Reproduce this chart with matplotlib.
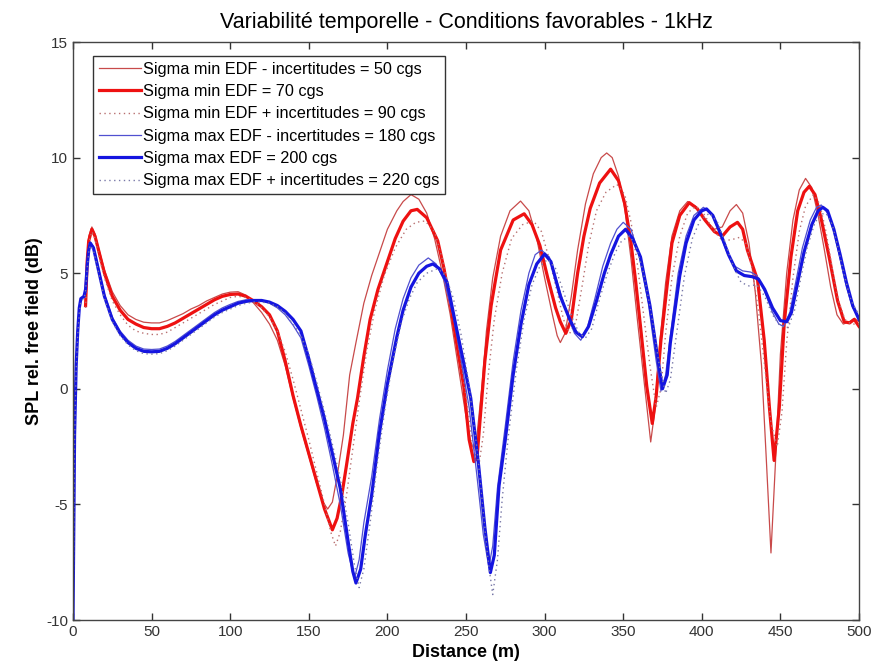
import matplotlib
matplotlib.use('Agg')
import matplotlib.pyplot as plt

plt.rcParams['font.family'] = ['Liberation Sans', 'DejaVu Sans']
plt.rcParams['axes.unicode_minus'] = False

TITLE = 'Variabilité temporelle - Conditions favorables - 1kHz'

# Sigma min EDF - incertitudes = 50 cgs
x_r50 = [8, 9, 10, 12, 14, 17, 20, 25, 30, 35, 40, 45, 50, 55, 60, 65, 70, 75, 80, 85, 90, 95,
         100, 105, 110, 115, 120, 125, 130, 135, 140, 145, 150, 155, 159, 162, 165, 168, 172, 176,
         180, 185, 190, 195, 200, 206, 210, 215, 220, 225, 230, 235, 240, 245, 250, 253, 255, 257,
         260, 263, 267, 272, 278, 284.7, 290, 295, 300, 305, 308, 310, 313, 317, 321, 326, 331, 336,
         339.5, 343, 347, 351, 355, 359, 363, 367.5, 370, 373, 377, 381, 386, 391, 396, 402, 408,
         413, 418, 422, 426, 430, 434, 438, 441, 444, 447, 450, 454, 458, 462, 466, 470, 474, 478,
         482, 486, 490, 494, 497, 500]
y_r50 = [3.7, 5.6, 6.6, 7.0, 6.7, 5.9, 5.15, 4.2, 3.6, 3.2, 3.0, 2.88, 2.85, 2.85, 2.95, 3.1, 3.25,
         3.45, 3.6, 3.8, 3.95, 4.1, 4.18, 4.2, 4.05, 3.7, 3.3, 2.8, 2.1, 1.0, -0.4, -1.7, -2.9, -4.1,
         -4.9, -5.2, -4.9, -3.8, -2.0, 0.6, 2.0, 3.7, 4.9, 5.9, 6.9, 7.7, 8.1, 8.4, 8.2, 7.6, 6.5, 5.0,
         3.2, 1.0, -1.2, -2.3, -2.6, -2.0, 0.0, 2.5, 4.8, 6.6, 7.7, 8.12, 7.7, 6.5, 4.8, 3.2, 2.3, 2.0,
         2.4, 4.0, 6.0, 8.0, 9.3, 10.0, 10.2, 10.0, 9.2, 7.8, 5.6, 3.0, 0.5, -2.3, -1.0, 1.8, 4.6, 6.6,
         7.7, 8.1, 7.9, 7.3, 6.9, 7.0, 7.7, 7.97, 7.6, 6.3, 4.2, 1.0, -3.0, -7.1, -3.0, 1.5, 5.0, 7.3,
         8.6, 9.1, 8.7, 7.5, 6.0, 4.4, 3.2, 2.8, 2.9, 3.05, 2.9]

# Sigma min EDF = 70 cgs
x_r70 = [8, 9, 10, 12, 14, 17, 20, 25, 30, 35, 40, 45, 50, 55, 60, 65, 70, 75, 80, 85, 90, 95,
         100, 105, 110, 115, 120, 125, 130, 135, 140, 145, 150, 155, 160, 165, 168, 171, 174, 178,
         181, 185, 189, 194, 200, 205, 210, 215, 219, 225, 232, 236, 240, 244, 248.6, 252, 255, 257,
         259, 262, 266, 272, 280, 287, 292, 297, 302, 307, 310, 313.5, 317, 321, 325, 329, 335, 342,
         347, 351, 355, 358, 361, 365, 368.5, 371, 374, 378, 381, 386, 392, 397, 402, 408, 413, 418,
         422.7, 426, 429, 435.5, 439.7, 443, 446, 449.3, 452.4, 456.7, 461, 465, 468.4, 472, 475.8,
         481, 486.4, 490.6, 494, 497, 500]
y_r70 = [3.6, 5.5, 6.4, 6.9, 6.6, 5.8, 5.0, 4.0, 3.4, 3.0, 2.8, 2.65, 2.6, 2.6, 2.7, 2.85, 3.05,
         3.25, 3.45, 3.65, 3.85, 4.0, 4.08, 4.1, 4.0, 3.8, 3.55, 3.2, 2.5, 1.2, -0.3, -1.6, -2.8, -4.0,
         -5.2, -6.1, -5.6, -4.6, -3.3, -1.5, -0.4, 1.4, 3.0, 4.3, 5.5, 6.5, 7.25, 7.7, 7.76, 7.4, 6.4,
         5.2, 3.7, 2.0, 0.1, -2.2, -3.15, -3.0, -1.3, 1.2, 3.6, 6.0, 7.3, 7.57, 7.1, 6.2, 4.8, 3.5, 2.9,
         2.4, 3.0, 5.0, 6.6, 7.8, 8.9, 9.5, 9.0, 8.0, 6.3, 4.6, 2.7, 0.1, -1.5, -0.3, 2.1, 4.5, 6.3,
         7.5, 8.05, 7.8, 7.3, 6.8, 6.6, 7.0, 7.2, 6.9, 6.0, 4.7, 2.1, -0.8, -3.1, -0.8, 2.8, 5.7, 7.7,
         8.5, 8.76, 8.4, 7.4, 5.7, 3.8, 2.9, 2.85, 3.0, 2.7]

# Sigma min EDF + incertitudes = 90 cgs
x_r90 = [8, 9, 10, 12, 14, 17, 20, 25, 30, 35, 40, 45, 50, 55, 60, 65, 70, 75, 80, 85, 90, 95,
         100, 105, 110, 115, 120, 125, 130, 135, 140, 145, 150, 155, 160, 164, 167, 170, 174, 178,
         182, 187, 192, 198, 205, 212, 218, 224, 230, 235, 240, 245, 250, 254, 258, 261, 264, 268,
         273, 279, 286, 293, 298, 303, 308, 312, 316, 320, 324, 328, 333, 339, 346, 351, 355, 359,
         363, 367, 371, 374, 377, 381, 386, 391, 396, 401, 407, 413, 419, 424, 428, 432, 436, 440,
         444, 448, 451, 454, 458, 462, 466, 471, 475, 479, 483, 487, 491, 495, 500]
y_r90 = [3.5, 5.3, 6.3, 6.8, 6.5, 5.6, 4.8, 3.8, 3.2, 2.75, 2.5, 2.4, 2.35, 2.35, 2.45, 2.65, 2.85,
         3.05, 3.25, 3.45, 3.65, 3.8, 3.95, 4.0, 3.95, 3.8, 3.5, 3.1, 2.5, 1.6, 0.4, -0.9, -2.2, -3.6,
         -5.0, -6.2, -6.8, -6.2, -4.6, -2.6, -0.6, 1.7, 3.4, 4.9, 6.1, 6.9, 7.2, 7.26, 6.8, 5.6, 4.0,
         2.0, -0.3, -2.3, -3.4, -2.0, 0.5, 3.0, 5.0, 6.5, 7.1, 7.26, 6.8, 5.6, 4.2, 3.0, 2.4, 2.9, 4.5,
         6.2, 7.7, 8.5, 8.84, 8.4, 7.2, 5.4, 3.2, 1.0, -0.8, 0.0, 2.4, 4.8, 6.6, 7.6, 7.9, 7.6, 6.9,
         6.4, 6.45, 6.55, 6.3, 5.2, 3.4, 1.0, -1.5, -2.5, -1.0, 2.0, 4.8, 6.8, 7.9, 8.4, 8.0, 6.8, 5.2,
         3.8, 3.0, 2.8, 2.8]

# Sigma max EDF - incertitudes = 180 cgs
x_b180 = [0, 0.5, 1, 2, 3, 4, 5, 7, 8, 9, 10, 11, 13, 15, 18, 20, 25, 30, 35, 40, 45, 50, 55, 60,
          65, 70, 75, 80, 85, 90, 95, 100, 105, 110, 115, 120, 125, 130, 135, 140, 145, 150, 155,
          160, 165, 170, 175, 179, 182, 185, 190, 195, 200, 205, 210, 215, 220, 226, 231, 236, 242,
          247, 252, 257, 261, 264.5, 267, 270, 275, 280, 285, 290, 294, 298, 303, 309, 315, 319, 323,
          327, 332, 337, 342, 346, 350, 355, 360, 366, 371, 374, 377, 380, 385, 390, 395, 401, 406,
          411, 416, 421, 426, 431, 435, 440, 445, 449, 452, 456, 460, 464, 469, 473, 476, 480, 484,
          488, 492, 496, 500]
y_b180 = [-10, -6, -2, 1.0, 2.5, 3.5, 3.9, 4.0, 4.3, 5.3, 6.0, 6.35, 6.15, 5.6, 4.7, 4.1, 3.1, 2.5,
          2.1, 1.85, 1.72, 1.7, 1.72, 1.85, 2.05, 2.3, 2.55, 2.8, 3.05, 3.3, 3.5, 3.65, 3.78, 3.85,
          3.85, 3.8, 3.7, 3.5, 3.2, 2.75, 2.2, 1.0, -0.3, -1.7, -3.3, -5.0, -7.1, -8.2, -7.4, -5.8,
          -3.8, -1.3, 0.8, 2.6, 3.9, 4.8, 5.35, 5.66, 5.4, 4.7, 3.1, 1.2, -0.8, -3.8, -6.3, -7.7, -6.8,
          -4.3, -1.6, 1.2, 3.4, 5.0, 5.8, 6.0, 5.7, 4.4, 3.1, 2.4, 2.1, 2.6, 3.9, 5.3, 6.3, 6.9, 7.2,
          6.9, 5.8, 3.7, 1.2, -0.1, 0.6, 2.3, 5.0, 6.6, 7.5, 7.85, 7.6, 6.8, 5.9, 5.3, 5.1, 5.05, 4.9,
          4.2, 3.3, 2.8, 2.7, 3.3, 4.7, 6.1, 7.3, 7.85, 7.95, 7.6, 6.8, 5.6, 4.4, 3.5, 3.1]

# Sigma max EDF = 200 cgs
x_b200 = [0, 0.5, 1, 2, 3, 4, 5, 7, 8, 9, 10, 11, 13, 15, 18, 20, 25, 30, 35, 40, 45, 50, 55, 60,
          65, 70, 75, 80, 85, 90, 95, 100, 105, 110, 115, 120, 125, 130, 135, 140, 145, 150, 155,
          160, 165, 170, 175, 178, 180, 183, 186, 190, 195, 200, 206, 210, 215, 220, 225, 229, 233,
          238, 244, 248, 253, 258, 262, 265.5, 268, 271, 275, 280, 285, 290, 295, 300, 304, 310, 316,
          320, 324, 328, 333, 338, 342, 347, 351.5, 356, 361, 367, 372, 375, 378, 380, 386, 390, 395,
          400, 403, 407, 412, 417, 422, 427, 432, 436, 440, 445, 450, 454, 457, 461, 465, 470, 474,
          477, 480, 484, 488, 492, 496, 500]
y_b200 = [-10, -6, -2, 1.0, 2.5, 3.5, 3.9, 4.0, 4.3, 5.3, 6.0, 6.3, 6.1, 5.5, 4.6, 4.0, 3.0, 2.4,
          2.0, 1.75, 1.62, 1.6, 1.62, 1.75, 1.95, 2.2, 2.45, 2.7, 2.95, 3.2, 3.4, 3.55, 3.7, 3.78,
          3.82, 3.82, 3.75, 3.6, 3.35, 3.0, 2.5, 1.3, 0.0, -1.3, -2.8, -4.3, -6.6, -7.9, -8.4, -7.8,
          -6.3, -4.6, -1.9, 0.2, 2.25, 3.4, 4.4, 5.0, 5.3, 5.4, 5.2, 4.6, 2.6, 1.3, -0.4, -3.3, -6.0,
          -7.95, -7.2, -4.2, -2.2, 0.6, 2.8, 4.5, 5.4, 5.83, 5.5, 4.0, 3.0, 2.45, 2.25, 2.7, 3.8, 5.0,
          5.8, 6.6, 6.9, 6.5, 5.7, 3.6, 1.3, 0.0, 0.6, 2.0, 4.9, 6.3, 7.3, 7.7, 7.78, 7.5, 6.7, 5.8,
          5.1, 4.9, 4.85, 4.75, 4.3, 3.5, 2.95, 2.9, 3.3, 4.6, 5.9, 7.1, 7.7, 7.85, 7.7, 6.9, 5.8, 4.6,
          3.6, 3.0]

# Sigma max EDF + incertitudes = 220 cgs
x_b220 = [0, 0.5, 1, 2, 3, 4, 5, 7, 8, 9, 10, 11, 13, 15, 18, 20, 25, 30, 35, 40, 45, 50, 55, 60,
          65, 70, 75, 80, 85, 90, 95, 100, 105, 110, 115, 120, 125, 130, 135, 140, 145, 150, 155,
          160, 165, 170, 175, 179, 182, 185, 189, 194, 199, 204, 209, 214, 219, 225, 232, 237, 242,
          247, 252, 257, 261, 264, 267, 270, 273, 277, 282, 287, 292, 297, 302, 307, 313, 318, 322,
          326, 330, 335, 340, 345, 349, 354, 358, 363, 368, 373, 377, 380, 384, 389, 394, 399, 405,
          410, 415, 420, 425, 430, 435, 440, 445, 450, 455, 459, 463, 467, 472, 476, 479, 483, 487,
          491, 495, 500]
y_b220 = [-10, -6, -2.2, 0.8, 2.3, 3.3, 3.8, 3.9, 4.2, 5.2, 5.9, 6.2, 6.0, 5.4, 4.5, 3.9, 2.9, 2.3,
          1.9, 1.65, 1.52, 1.5, 1.52, 1.65, 1.85, 2.1, 2.35, 2.6, 2.85, 3.1, 3.3, 3.45, 3.6, 3.7,
          3.75, 3.75, 3.7, 3.55, 3.25, 2.8, 2.3, 1.5, 0.3, -1.0, -2.4, -3.9, -5.8, -7.6, -8.6, -7.8,
          -5.8, -3.0, -0.6, 1.4, 2.9, 3.9, 4.6, 5.0, 5.2, 4.9, 3.9, 2.3, 0.1, -2.6, -5.3, -7.4, -8.9,
          -7.4, -4.8, -2.0, 0.8, 3.0, 4.5, 5.3, 5.6, 5.2, 4.0, 3.0, 2.4, 2.2, 2.6, 3.9, 5.0, 5.9, 6.4,
          6.6, 6.2, 5.0, 3.2, 1.0, -0.2, 0.4, 2.4, 4.9, 6.5, 7.3, 7.6, 7.2, 6.3, 5.3, 4.6, 4.45, 4.5,
          4.0, 3.2, 2.7, 2.65, 3.4, 4.8, 6.1, 7.2, 7.55, 7.6, 7.1, 6.0, 4.8, 3.8, 3.2]

labels = ['Sigma min EDF - incertitudes = 50 cgs',
          'Sigma min EDF = 70 cgs',
          'Sigma min EDF + incertitudes = 90 cgs',
          'Sigma max EDF - incertitudes = 180 cgs',
          'Sigma max EDF = 200 cgs',
          'Sigma max EDF + incertitudes = 220 cgs']

fig = plt.figure(figsize=(8.81, 6.66), dpi=100)
ax = fig.add_axes((73 / 881, 1 - 620 / 666, 786 / 881, 578 / 666))

ax.plot(x_r50, y_r50, color='#c84a4a', lw=0.9, label=labels[0])
ax.plot(x_r70, y_r70, color='#ee1111', lw=2.3, label=labels[1])
ax.plot(x_r90, y_r90, color='#b87070', lw=1.0, ls=(0, (1, 2.5)), label=labels[2])
ax.plot(x_b180, y_b180, color='#5050d0', lw=0.9, label=labels[3])
ax.plot(x_b200, y_b200, color='#1515e0', lw=2.3, label=labels[4])
ax.plot(x_b220, y_b220, color='#7878a8', lw=1.0, ls=(0, (1, 2.5)), label=labels[5])

ax.set_xlim(0, 500)
ax.set_ylim(-10, 15)
ax.set_xticks(range(0, 501, 50))
ax.set_yticks(range(-10, 16, 5))
ax.tick_params(direction='in', top=True, right=True, length=5, width=1,
               labelsize=11, labelcolor='#333333', color='#333333')
for sp in ax.spines.values():
    sp.set_color('#444444')
    sp.set_linewidth(1)

ax.set_title(TITLE, fontsize=15.5, pad=10)
ax.set_xlabel('Distance (m)', fontsize=13, fontweight='bold', labelpad=4)
ax.set_ylabel('SPL rel. free field (dB)', fontsize=13, fontweight='bold', labelpad=2)

leg = ax.legend(loc='upper left', bbox_to_anchor=(93 / 881, 1 - 56 / 666),
                bbox_transform=fig.transFigure, borderaxespad=0, fontsize=11.7,
                fancybox=False, framealpha=1, edgecolor='#333333',
                handlelength=2.6, handletextpad=0.15, labelspacing=0.45,
                borderpad=0.35)
leg.get_frame().set_linewidth(1)

fig.savefig('out.png', dpi=100)
